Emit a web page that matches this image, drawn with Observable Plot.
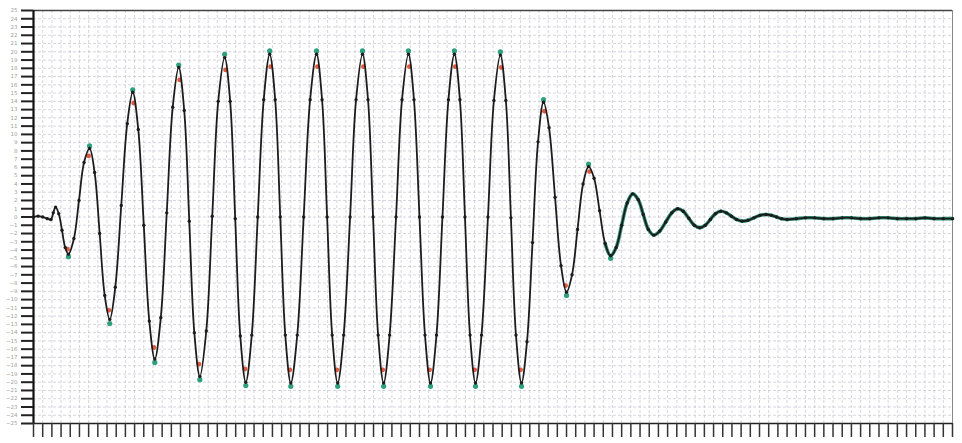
<!DOCTYPE html>
<html>
<head>
<meta charset="utf-8">
<script src="https://cdn.jsdelivr.net/npm/d3@7"></script>
<script src="https://cdn.jsdelivr.net/npm/@observablehq/plot@0.6"></script>
<style>
  html, body { margin: 0; padding: 0; background: #fff; }
  #chart svg { display: block; }
</style>
</head>
<body>
<div id="chart"></div>
<script>
// Waveform samples (x: 0..100, y: -25..25)
const waveX = [
  0, 0.5, 1.0, 1.5, 1.9, 2.15, 2.4,
  2.75, 3.1, 3.45, 3.8,
  4.4, 4.95, 5.5, 6.1,
  6.65, 7.2, 7.75, 8.3,
  8.9, 9.55, 10.2, 10.8,
  11.4, 12.0, 12.6, 13.2,
  13.85, 14.5, 15.15, 15.8,
  16.4, 16.95, 17.5, 18.1,
  18.8, 19.45, 20.1, 20.8,
  21.4, 21.95, 22.5, 23.1,
  23.75, 24.4, 25.05, 25.7,
  26.3, 26.85, 27.4, 28.0,
  28.7, 29.4, 30.1, 30.8,
  31.4, 31.95, 32.5, 33.1,
  33.75, 34.45, 35.1, 35.8,
  36.4, 36.95, 37.5, 38.1,
  38.75, 39.45, 40.1, 40.8,
  41.4, 42.0, 42.6, 43.2,
  43.85, 44.5, 45.15, 45.8,
  46.4, 46.95, 47.5, 48.1,
  48.75, 49.45, 50.1, 50.8,
  51.4, 51.95, 52.5, 53.1,
  53.7, 54.3, 54.9, 55.5,
  56.1, 56.75, 57.4, 58.0,
  58.6, 59.2, 59.8, 60.4,
  61.0, 61.6, 62.2, 62.8,
  63.4, 64.0, 64.6, 65.2,
  65.8, 66.35, 66.9, 67.5,
  68.15, 68.8, 69.45, 70.1,
  70.7, 71.3, 71.9, 72.5,
  73.1, 73.65, 74.2, 74.8,
  75.4, 75.95, 76.5, 77.1,
  77.75, 78.4, 79.05, 79.7,
  80.3, 80.85, 81.4, 82.0,
  83, 84, 85, 86, 87, 88, 89, 90, 91, 92, 93, 94, 95, 96, 97, 98, 99, 100
];
const waveY = [
  0, 0.1, 0.0, -0.2, -0.3, 0.5, 1.2,
  0.4, -1.6, -3.7, -4.5,
  -2.6, 2.0, 6.6, 8.3,
  5.4, -2.0, -9.5, -12.4,
  -8.5, 1.4, 11.3, 15.1,
  10.6, -1.0, -12.6, -17.2,
  -12.2, 0.5, 13.3, 18.1,
  12.9, -0.5, -14.0, -19.3,
  -13.8, 0.1, 14.0, 19.3,
  14.0, -0.2, -14.4, -20.0,
  -14.3, 0.0, 14.2, 19.7,
  14.2, 0.0, -14.3, -20.1,
  -14.3, 0.0, 14.2, 19.7,
  14.2, 0.0, -14.3, -20.1,
  -14.3, 0.0, 14.2, 19.7,
  14.2, 0.0, -14.3, -20.1,
  -14.3, 0.0, 14.2, 19.7,
  14.2, 0.0, -14.3, -20.1,
  -14.3, 0.0, 14.2, 19.7,
  14.2, 0.0, -14.3, -20.1,
  -14.3, 0.0, 14.1, 19.6,
  14.1, -0.1, -14.3, -20.1,
  -15.1, -3.1, 9.1, 13.9,
  10.8, 2.4, -5.9, -9.1,
  -7.0, -1.5, 4.0, 6.1,
  4.7, 0.75, -3.2, -4.7,
  -3.7, -1.0, 1.7, 2.8,
  2.1, 0.3, -1.5, -2.2,
  -1.7, -0.6, 0.5, 1.0,
  0.7, -0.15, -1.0, -1.3,
  -1.0, -0.3, 0.4, 0.7,
  0.5, 0.1, -0.3, -0.5,
  -0.4, -0.1, 0.2, 0.3,
  0.2, 0.0, -0.2, -0.3,
  -0.2, -0.1, -0.1, -0.2, -0.2, -0.1, -0.1, -0.2, -0.2, -0.1, -0.1, -0.2, -0.2, -0.2, -0.1, -0.2, -0.2, -0.2
];
// Second (green) trace: tips reaching slightly past the black extremes
const greenTipX = [3.8, 6.1, 8.3, 10.8, 13.2, 15.8, 18.1, 20.8, 23.1, 25.7, 28.0, 30.8, 33.1, 35.8, 38.1, 40.8, 43.2, 45.8, 48.1, 50.8, 53.1, 55.5, 58.0, 60.4, 62.8];
const greenTipY = [-4.8, 8.6, -12.9, 15.4, -17.6, 18.4, -19.7, 19.7, -20.4, 20.1, -20.5, 20.1, -20.5, 20.1, -20.5, 20.1, -20.5, 20.1, -20.5, 20.0, -20.5, 14.2, -9.5, 6.4, -5.0];
// Third (red) trace: tips a little inside the black extremes
const redTipX = [3.7, 6.0, 8.2, 10.9, 13.1, 15.9, 18.0, 20.9, 23.0, 25.8, 27.9, 30.9, 33.0, 35.9, 38.0, 40.9, 43.1, 45.9, 48.0, 50.9, 53.0, 55.6, 57.9, 60.5];
const redTipY = [-3.9, 7.4, -11.3, 13.8, -15.8, 16.6, -17.8, 17.8, -18.4, 18.2, -18.5, 18.2, -18.5, 18.2, -18.5, 18.2, -18.5, 18.2, -18.5, 18.1, -18.5, 12.8, -8.3, 5.5];
// Axis ticks
const xTicks = d3.range(0, 101, 1);
const yTicks = d3.range(-25, 26, 1);

const wave = waveX.map((x, i) => ({x, y: waveY[i]}));
const greenTips = greenTipX.map((x, i) => ({x, y: greenTipY[i]}));
const redTips = redTipX.map((x, i) => ({x, y: redTipY[i]}));

const chart = Plot.plot({
  width: 962,
  height: 443,
  marginLeft: 33,
  marginRight: 10,
  marginTop: 10,
  marginBottom: 20,
  style: {background: "#fff", fontFamily: "DejaVu Sans, sans-serif"},
  x: {domain: [0, 100]},
  y: {domain: [-25, 25]},
  marks: [
    Plot.gridX(xTicks, {stroke: "#b4b4c2", strokeOpacity: 0.55, strokeDasharray: "3,2"}),
    Plot.gridY(yTicks, {stroke: "#b4b4c2", strokeOpacity: 0.55, strokeDasharray: "3,2"}),
    // frame
    Plot.ruleY([25], {stroke: "#444", strokeWidth: 1.3}),
    Plot.ruleX([100], {stroke: "#888", strokeWidth: 1}),
    Plot.ruleY([-25], {stroke: "#222", strokeWidth: 1.5}),
    Plot.ruleX([0], {stroke: "#111", strokeWidth: 2.2}),
    // axes
    Plot.axisY(yTicks, {label: null, tickSize: 12, strokeWidth: 2, stroke: "#222", tickFormat: () => ""}),
    Plot.axisY(yTicks, {label: null, tickSize: 0, tickPadding: 16, fontSize: 5.5, fill: "#a0a0a0"}),
    Plot.axisX(xTicks, {label: null, tickSize: 14, strokeWidth: 1.5, stroke: "#333", tickFormat: () => ""}),
    // colored traces
    Plot.line(wave.filter(d => d.x >= 62), {x: "x", y: "y", curve: "catmull-rom", stroke: "#2f9274", strokeWidth: 3.6}),
    Plot.dot(greenTips, {x: "x", y: "y", r: 2.6, fill: "#2fa07c"}),
    Plot.dot(redTips, {x: "x", y: "y", r: 2.4, fill: "#e0583e"}),
    // main trace
    Plot.line(wave, {x: "x", y: "y", curve: "catmull-rom", stroke: "#1c1c1c", strokeWidth: 1.8}),
    Plot.dot(wave, {x: "x", y: "y", r: 1.7, fill: "#1c1c1c"})
  ]
});
document.getElementById("chart").appendChild(chart);
</script>
</body>
</html>
